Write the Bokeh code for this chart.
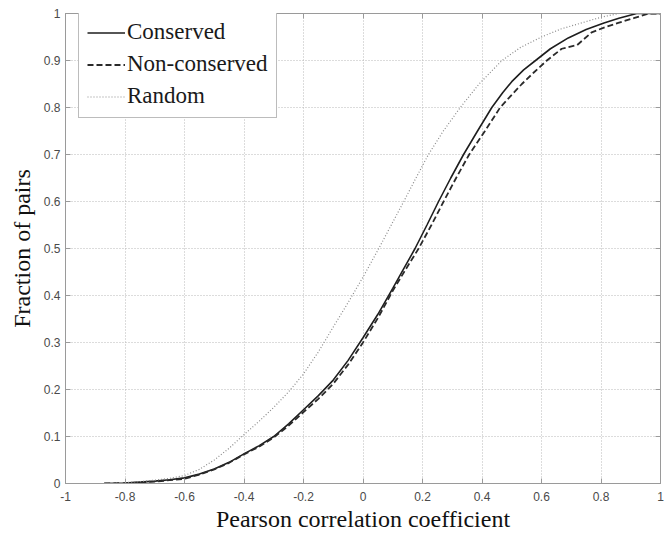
from bokeh.plotting import figure
from bokeh.models import FixedTicker, LinearAxis, Legend, LegendItem
from bokeh.embed import file_html
from bokeh.resources import INLINE

# ---- data ----
cons_x = [-0.87, -0.8, -0.75, -0.7, -0.65, -0.6, -0.55, -0.5, -0.45, -0.4, -0.35, -0.3, -0.25, -0.2, -0.15, -0.1, -0.05,
          0.0, 0.05, 0.1, 0.13, 0.175, 0.215, 0.254, 0.295, 0.338, 0.385, 0.433, 0.47, 0.5, 0.54, 0.58, 0.63, 0.69, 0.75,
          0.81, 0.86, 0.92, 1.0]
cons_y = [0.0, 0.001, 0.003, 0.005, 0.008, 0.012, 0.020, 0.031, 0.045, 0.063, 0.080, 0.100, 0.127, 0.157, 0.187, 0.220, 0.262,
          0.310, 0.360, 0.415, 0.449, 0.500, 0.550, 0.600, 0.650, 0.700, 0.750, 0.800, 0.832, 0.855, 0.880, 0.900, 0.925, 0.948, 0.966,
          0.980, 0.990, 1.000, 1.0]

noncons_x = [-0.87, -0.8, -0.75, -0.7, -0.65, -0.6, -0.55, -0.5, -0.45, -0.4, -0.35, -0.3, -0.25, -0.2, -0.15, -0.1, -0.05,
             0.0, 0.05, 0.1, 0.14, 0.187, 0.23, 0.271, 0.313, 0.357, 0.41, 0.461, 0.5, 0.534, 0.575, 0.618, 0.668, 0.72, 0.769,
             0.81, 0.858, 0.91, 0.96, 1.0]
noncons_y = [0.0, 0.001, 0.002, 0.004, 0.007, 0.010, 0.019, 0.030, 0.044, 0.062, 0.078, 0.098, 0.123, 0.152, 0.180, 0.212, 0.253,
             0.300, 0.352, 0.410, 0.452, 0.500, 0.550, 0.600, 0.650, 0.700, 0.750, 0.800, 0.827, 0.850, 0.875, 0.900, 0.925, 0.933, 0.960,
             0.970, 0.980, 0.990, 1.000, 1.0]

rand_x = [-0.86, -0.8, -0.75, -0.7, -0.65, -0.6, -0.55, -0.5, -0.45, -0.4, -0.35, -0.3, -0.25, -0.2, -0.15, -0.1, -0.05,
          0.0, 0.053, 0.095, 0.137, 0.178, 0.22, 0.27, 0.327, 0.39, 0.467, 0.53, 0.6, 0.665, 0.735, 0.8, 0.86, 1.0]
rand_y = [0.0, 0.002, 0.004, 0.007, 0.011, 0.017, 0.030, 0.050, 0.075, 0.104, 0.132, 0.162, 0.195, 0.233, 0.280, 0.333, 0.385,
          0.439, 0.500, 0.550, 0.600, 0.650, 0.700, 0.750, 0.800, 0.850, 0.900, 0.928, 0.950, 0.967, 0.980, 0.992, 1.000, 1.0]

x_ticks = [-1, -0.8, -0.6, -0.4, -0.2, 0, 0.2, 0.4, 0.6, 0.8, 1]
x_tick_labels = ["-1", "-0.8", "-0.6", "-0.4", "-0.2", "0", "0.2", "0.4", "0.6", "0.8", "1"]
y_ticks = [0, 0.1, 0.2, 0.3, 0.4, 0.5, 0.6, 0.7, 0.8, 0.9, 1]
y_tick_labels = ["0", "0.1", "0.2", "0.3", "0.4", "0.5", "0.6", "0.7", "0.8", "0.9", "1"]

series_names = ["Conserved", "Non-conserved", "Random"]

# ---- figure ----
p = figure(width=665, height=536, x_range=(-1, 1), y_range=(0, 1),
           output_backend="svg", toolbar_location=None,
           min_border_left=65, min_border_right=5, min_border_top=13, min_border_bottom=53)
p.background_fill_color = "white"
p.border_fill_color = "white"
p.outline_line_color = "#9a9a9a"
p.outline_line_width = 1

AX = "#9a9a9a"
TICK_FONT = "Liberation Sans"
SERIF = "Liberation Serif"

def style_axis(ax, ticks, labels, show_labels=True):
    ax.ticker = FixedTicker(ticks=ticks)
    ax.major_label_overrides = {t: l for t, l in zip(ticks, labels)}
    ax.axis_line_color = AX
    ax.major_tick_line_color = AX
    ax.major_tick_in = 5
    ax.major_tick_out = 0
    ax.minor_tick_line_color = None
    ax.major_label_text_font = TICK_FONT
    ax.major_label_text_color = "#4a4a4a"
    ax.major_label_text_font_size = "12px" if show_labels else "0px"
    ax.major_label_standoff = 5 if show_labels else 0

style_axis(p.xaxis[0], x_ticks, x_tick_labels)
style_axis(p.yaxis[0], y_ticks, y_tick_labels)
p.xaxis[0].major_label_standoff = 8

p.xaxis.axis_label = "Pearson correlation coefficient"
p.yaxis.axis_label = "Fraction of pairs"
for ax in (p.xaxis[0], p.yaxis[0]):
    ax.axis_label_text_font = SERIF
    ax.axis_label_text_font_style = "normal"
    ax.axis_label_text_font_size = "24px"
    ax.axis_label_text_color = "#111111"
p.xaxis[0].axis_label_standoff = 2
p.yaxis[0].axis_label_standoff = 6

top_ax = LinearAxis()
style_axis(top_ax, x_ticks, ["" for _ in x_ticks], show_labels=False)
p.add_layout(top_ax, "above")
right_ax = LinearAxis()
style_axis(right_ax, y_ticks, ["" for _ in y_ticks], show_labels=False)
p.add_layout(right_ax, "right")

p.xgrid.ticker = FixedTicker(ticks=x_ticks)
p.ygrid.ticker = FixedTicker(ticks=y_ticks)
for g in (p.xgrid[0], p.ygrid[0]):
    g.grid_line_color = "#b8b8b8"
    g.grid_line_dash = "1 2"
    g.grid_line_width = 1

r_cons = p.line(cons_x, cons_y, line_color="#1e1e1e", line_width=1.6)
r_non = p.line(noncons_x, noncons_y, line_color="#2a2a2a", line_width=1.8, line_dash="6 3")
r_rand = p.line(rand_x, rand_y, line_color="#8a8a8a", line_width=1.2, line_dash="1 2")

legend = Legend(items=[LegendItem(label=series_names[0], renderers=[r_cons]),
                       LegendItem(label=series_names[1], renderers=[r_non]),
                       LegendItem(label=series_names[2], renderers=[r_rand])],
                location=(13, 365))
legend.label_text_font = SERIF
legend.label_text_font_size = "23px"
legend.label_text_color = "#1a1a1a"
legend.label_height = 23
legend.label_standoff = 2
legend.glyph_width = 38
legend.glyph_height = 23
legend.spacing = 6
legend.padding = 8
legend.margin = 0
legend.border_line_color = "#7a7a7a"
legend.border_line_width = 1
legend.background_fill_color = "white"
legend.background_fill_alpha = 1
p.add_layout(legend, "center")

open("out.html", "w").write(file_html(p, INLINE))
